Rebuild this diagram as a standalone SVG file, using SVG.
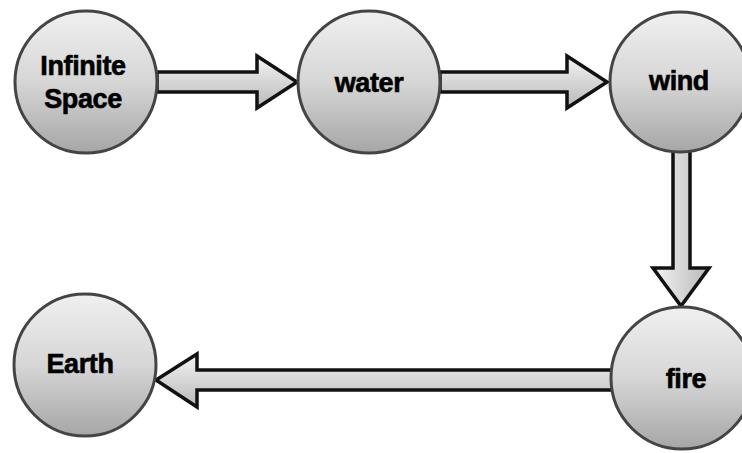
<svg xmlns="http://www.w3.org/2000/svg" width="742" height="453" viewBox="0 0 742 453">
  <defs>
    <linearGradient id="cg" x1="0" y1="0" x2="0" y2="1">
      <stop offset="0" stop-color="#f0f0f0"/>
      <stop offset="0.5" stop-color="#d6d6d6"/>
      <stop offset="1" stop-color="#a6a6a6"/>
    </linearGradient>
    <linearGradient id="ah" x1="0" y1="0" x2="0" y2="1">
      <stop offset="0" stop-color="#f4f4f4"/>
      <stop offset="1" stop-color="#b8b8b8"/>
    </linearGradient>
    <linearGradient id="av" x1="0" y1="0" x2="1" y2="0">
      <stop offset="0" stop-color="#f4f4f4"/>
      <stop offset="1" stop-color="#b8b8b8"/>
    </linearGradient>
  </defs>
  <style>
    .node circle { fill: url(#cg); stroke: #444; stroke-width: 3; }
    .node text { font-family: "Liberation Sans", Arial, sans-serif; font-weight: bold; font-size: 27px; fill: #000; stroke: #000; stroke-width: 0.6; letter-spacing: -0.4px; text-anchor: middle; }
    .arrow { stroke: #111; stroke-width: 3.5; stroke-linejoin: miter; }
  </style>
  <rect width="742" height="453" fill="#ffffff"/>
  <g id="connectors">
    <path class="arrow" fill="url(#ah)" d="M157,72 L257,72 L257,56 L297,82 L257,108 L257,92 L157,92 Z"/>
    <path class="arrow" fill="url(#ah)" d="M440,72 L567,72 L567,56 L607,82 L567,108 L567,92 L440,92 Z"/>
    <path class="arrow" fill="url(#av)" d="M673,151 L673,268 L653,268 L681,306 L709,268 L690,268 L690,151 Z"/>
    <path class="arrow" fill="url(#ah)" d="M613,370 L197,370 L197,354 L156,380 L197,407 L197,390 L613,390 Z"/>
  </g>
  <g id="node-infinite-space" class="node">
    <circle cx="86" cy="82" r="71"/>
    <text x="83" y="75">Infinite</text>
    <text x="83" y="108">Space</text>
  </g>
  <g id="node-water" class="node">
    <circle cx="369" cy="82" r="71"/>
    <text x="369" y="92">water</text>
  </g>
  <g id="node-wind" class="node">
    <circle cx="680" cy="82" r="70"/>
    <text x="679" y="90">wind</text>
  </g>
  <g id="node-fire" class="node">
    <circle cx="682" cy="378" r="71"/>
    <text x="686" y="388">fire</text>
  </g>
  <g id="node-earth" class="node">
    <circle cx="85" cy="365" r="71"/>
    <text x="80" y="373">Earth</text>
  </g>
</svg>
